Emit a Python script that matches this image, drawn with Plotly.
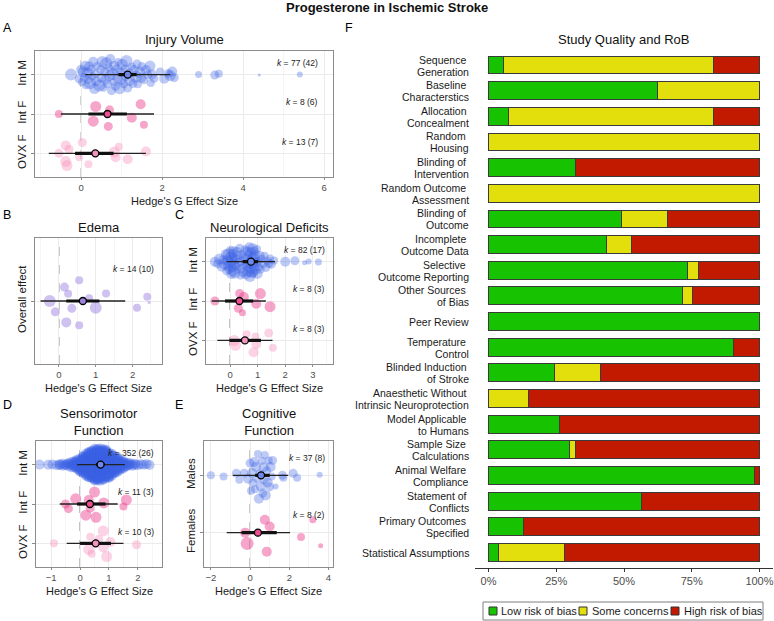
import numpy as np
import plotly.graph_objects as go

W, H = 774, 621
FONT = "Liberation Sans, Arial, sans-serif"

# ---------------- DATA ----------------
# Panel A: Injury Volume
iv_intm_x = [-0.25, -0.05, 0.0, 0.02, 0.05, 0.08, 0.1, 0.12, 0.15, 0.18, 0.2, 0.22, 0.25, 0.28, 0.3,
             0.33, 0.35, 0.38, 0.4, 0.45, 0.48, 0.5, 0.52, 0.55, 0.58, 0.6, 0.62, 0.65, 0.68, 0.7,
             0.72, 0.75, 0.78, 0.8, 0.82, 0.85, 0.88, 0.9, 0.92, 0.95, 0.98, 1.0, 1.02, 1.05, 1.08,
             1.1, 1.12, 1.15, 1.18, 1.2, 1.25, 1.28, 1.3, 1.35, 1.38, 1.4, 1.45, 1.48, 1.5, 1.55,
             1.6, 1.65, 1.7, 1.72, 1.75, 1.8, 1.95, 2.05, 2.15, 2.2, 2.25, 2.3, 2.9, 3.3, 3.4, 4.4, 5.4]
iv_intm_s = [12, 9, 10, 8, 11, 9, 10, 8, 11, 9, 10, 12, 9, 8, 10, 11, 9, 10, 8, 12, 9, 10, 11, 8, 9,
             10, 12, 9, 8, 11, 10, 9, 12, 8, 10, 9, 11, 10, 8, 12, 9, 10, 11, 9, 8, 10, 12, 9, 10, 11,
             8, 9, 10, 12, 9, 8, 11, 10, 9, 8, 10, 9, 11, 8, 10, 9, 8, 10, 9, 11, 10, 9, 7, 9, 8, 3, 6]
iv_intf_x = [-0.55, 0.36, 0.3, 0.7, 0.67, 1.25, 1.47, 1.55]
iv_intf_s = [8, 11, 11, 9, 9, 10, 10, 8]
iv_ovxf_x = [-0.55, -0.38, -0.38, -0.35, -0.3, -0.05, 0.03, 0.18, 0.82, 0.85, 0.93, 1.15, 1.6]
iv_ovxf_s = [9, 11, 10, 11, 9, 8, 9, 8, 11, 10, 8, 10, 10]
# (estimate, CI low, CI high, PI low, PI high)
iv_stats = {"Int M": (1.15, 0.92, 1.37, 0.1, 2.2),
            "Int F": (0.65, 0.18, 1.13, -0.5, 1.8),
            "OVX F": (0.35, -0.15, 0.8, -0.8, 1.6)}
iv_k = {"Int M": "77 (42)", "Int F": "8 (6)", "OVX F": "13 (7)"}

# Panel B: Edema
ed_x = [-0.25, -0.1, 0.15, 0.2, 0.25, 0.35, 0.55, 0.55, 0.82, 1.0, 1.28, 2.12, 2.4, 2.45]
ed_s = [12, 9, 9, 10, 8, 9, 8, 8, 8, 12, 8, 8, 8, 3]
ed_stats = (0.65, 0.2, 1.1, -0.5, 1.8)
ed_k = "14 (10)"

# Panel C: Neurological Deficits
nd_intm_x = [-0.55, -0.45, -0.38, -0.3, -0.25, -0.2, -0.15, -0.12, -0.1, -0.08, -0.05, -0.03, 0.0, 0.0,
             0.02, 0.05, 0.05, 0.08, 0.1, 0.1, 0.12, 0.15, 0.15, 0.18, 0.2, 0.22, 0.25, 0.28, 0.3, 0.32,
             0.35, 0.38, 0.4, 0.42, 0.45, 0.48, 0.5, 0.52, 0.55, 0.58, 0.6, 0.62, 0.64, 0.66, 0.68,
             0.7, 0.7, 0.72, 0.74, 0.75, 0.76, 0.78, 0.8, 0.8, 0.82, 0.84, 0.85, 0.86, 0.88, 0.9,
             0.92, 0.95, 0.98, 1.0, 1.02, 1.05, 1.08, 1.1, 1.15, 1.2, 1.25, 1.3, 1.35, 1.4, 1.45,
             1.5, 1.6, 2.0, 2.35, 2.7, 2.85, 3.2]
nd_intm_s = [10, 9, 11, 10, 9, 12, 10, 9, 11, 10, 12, 9, 10, 11, 9, 10, 12, 9, 10, 11, 9, 10, 8, 11,
             10, 9, 10, 8, 9, 10, 9, 8, 10, 9, 8, 10, 9, 8, 9, 10, 11, 9, 10, 12, 9, 11, 10, 12, 9,
             11, 10, 12, 9, 10, 11, 9, 12, 10, 9, 11, 10, 9, 8, 10, 9, 8, 10, 9, 8, 9, 8, 9, 8, 9,
             8, 9, 8, 10, 9, 5, 6, 7]
nd_intf_x = [-0.55, 0.3, 0.35, 0.45, 0.5, 0.95, 1.1, 1.45]
nd_intf_s = [9, 9, 9, 7, 10, 10, 11, 11]
nd_ovxf_x = [0.15, 0.2, 0.6, 0.85, 0.92, 0.95, 1.4, 1.55]
nd_ovxf_s = [11, 11, 8, 10, 8, 10, 9, 8]
nd_stats = {"Int M": (0.76, 0.46, 1.02, -0.12, 1.63),
            "Int F": (0.34, -0.18, 0.84, -0.66, 1.3),
            "OVX F": (0.54, -0.02, 1.12, -0.46, 1.54)}
nd_k = {"Int M": "82 (17)", "Int F": "8 (3)", "OVX F": "8 (3)"}

# Panel D: Sensorimotor Function (Int M given as value bins with counts, k = 352)
sm_intm_bins = [-1.4, -1.1, -0.95, -0.8, -0.7, -0.6, -0.5, -0.4, -0.3, -0.2, -0.1, 0.0, 0.1, 0.2,
                0.3, 0.4, 0.5, 0.6, 0.7, 0.8, 0.9, 1.0, 1.1, 1.2, 1.3, 1.4, 1.5, 1.6, 1.7, 1.8,
                1.9, 2.0, 2.1, 2.2, 2.3, 2.4]
sm_intm_counts = [1, 1, 1, 1, 2, 2, 2, 3, 4, 6, 8, 11, 15, 18, 22, 25, 27, 27, 27, 27, 25, 22,
                  18, 15, 12, 8, 6, 4, 3, 2, 2, 1, 1, 1, 1, 1]
sm_intm_size = 10
sm_intf_x = [-0.5, -0.4, -0.15, 0.2, 0.3, 0.35, 0.5, 0.55, 0.82, 1.5, 1.6]
sm_intf_s = [9, 9, 11, 11, 10, 9, 11, 11, 11, 8, 11]
sm_ovxf_x = [-0.9, 0.3, 0.35, 0.4, 0.65, 0.8, 0.8, 0.92, 1.05, 1.95]
sm_ovxf_s = [8, 11, 8, 8, 9, 10, 11, 11, 10, 9]
sm_stats = {"Int M": (0.71, 0.55, 0.85, -0.1, 1.55),
            "Int F": (0.34, -0.1, 0.88, -0.7, 1.3),
            "OVX F": (0.54, 0.0, 1.07, -0.46, 1.5)}
sm_k = {"Int M": "352 (26)", "Int F": "11 (3)", "OVX F": "10 (3)"}

# Panel E: Cognitive Function
cf_m_x = [-2.0, -1.35, -0.7, -0.55, -0.3, -0.1, 0.0, 0.05, 0.1, 0.15, 0.2, 0.25, 0.3, 0.35, 0.4,
          0.45, 0.5, 0.55, 0.6, 0.65, 0.7, 0.72, 0.75, 0.8, 0.85, 0.9, 0.95, 1.0, 1.05, 1.1, 1.15,
          1.3, 1.65, 1.7, 2.2, 2.4, 3.55]
cf_m_s = [8, 8, 9, 8, 9, 10, 9, 8, 10, 9, 10, 8, 10, 9, 8, 10, 9, 10, 8, 9, 10, 9, 8, 10, 9, 10,
          8, 9, 10, 8, 9, 6, 9, 8, 9, 8, 6]
cf_f_x = [-0.25, -0.15, 0.75, 0.85, 1.0, 2.6, 3.2, 3.6]
cf_f_s = [10, 13, 10, 10, 10, 8, 7, 5]
cf_stats = {"Males": (0.56, 0.26, 1.0, -0.88, 1.95),
            "Females": (0.4, -0.43, 1.36, -1.19, 2.04)}
cf_k = {"Males": "37 (8)", "Females": "8 (2)"}

# Panel F: Study quality / risk of bias (%)
rob_labels = ["Sequence\u00a0<br>Generation", "Baseline\u00a0<br>Characterstics",
              "Allocation\u00a0<br>Concealment", "Random\u00a0<br>Housing",
              "Blinding of\u00a0<br>Intervention", "Random Outcome\u00a0<br>Assessment",
              "Blinding of\u00a0<br>Outcome", "Incomplete\u00a0<br>Outcome Data",
              "Selective\u00a0<br>Outcome Reporting", "Other Sources\u00a0<br>of Bias",
              "Peer Review", "Temperature\u00a0<br>Control", "Blinded Induction\u00a0<br>of Stroke",
              "Anaesthetic Without\u00a0<br>Intrinsic Neuroprotection",
              "Model Applicable\u00a0<br>to Humans", "Sample Size\u00a0<br>Calculations",
              "Animal Welfare\u00a0<br>Compliance", "Statement of\u00a0<br>Conflicts",
              "Primary Outcomes\u00a0<br>Specified", "Statistical Assumptions"]
rob_low = [5.5, 62.2, 7.5, 0, 32, 0, 49, 43.4, 73.6, 71.7, 100, 90.6, 24.5, 0, 26.3, 30, 98.2, 56.6, 13, 3.8]
rob_some = [77.5, 37.8, 75.5, 100, 0, 100, 17, 9.5, 3.8, 3.7, 0, 0, 17, 14.9, 0, 2, 0, 0, 0, 24.4]
rob_high = [17, 0, 17, 0, 68, 0, 34, 47.1, 22.6, 24.6, 0, 9.4, 58.5, 85.1, 73.7, 68, 1.8, 43.4, 87, 71.8]
rob_cats = ["Low risk of bias", "Some concerns", "High risk of bias"]

# ---------------- STYLE ----------------
C_M = "rgba(60,98,228,0.48)"
C_F = "rgba(236,60,138,0.65)"
C_O = "rgba(246,140,186,0.55)"
C_E = "rgba(140,108,220,0.6)"
MEAN_FILL = {"M": "#6E88E8", "F": "#EC4E92", "O": "#F392BD", "E": "#9C84DE"}
ROB_COL = ["#17C200", "#E2DF0C", "#C21A00"]


def px(x):
    return x / W


def py(y):
    return 1 - y / H


def vdc_seq(n):
    out = []
    for i in range(1, n + 1):
        v, denom, k = 0.0, 1.0, i
        while k:
            denom *= 2
            k, r = divmod(k, 2)
            v += r / denom
        out.append(v)
    return np.array(out)


def quasi_offsets(x, width):
    x = np.asarray(x, float)
    n = len(x)
    if n < 2:
        return np.zeros(n)
    sd = x.std(ddof=1)
    q75, q25 = np.percentile(x, [75, 25])
    iqr = q75 - q25
    s = min(sd, iqr / 1.34) if iqr > 0 else sd
    bw = 0.9 * s * n ** -0.2
    d = np.exp(-0.5 * ((x[:, None] - x[None, :]) / bw) ** 2).sum(1)
    d = d / d.max()
    ranks = np.empty(n, int)
    ranks[np.argsort(x, kind="stable")] = np.arange(n)
    v = vdc_seq(n)[ranks]
    return (v - 0.5) * 2 * width * d


fig = go.Figure()
annotations = []
shapes = []

panels = [
    dict(ax="", xd=(35, 333), yd=(51, 177), xr=[-1.14, 6.22], dt=2, yr=[0.4, 3.6],
         rows={3: "Int M", 2: "Int F", 1: "OVX F"}, width=0.42,
         groups=[(3, iv_intm_x, iv_intm_s, C_M, "M", iv_stats["Int M"], iv_k["Int M"]),
                 (2, iv_intf_x, iv_intf_s, C_F, "F", iv_stats["Int F"], iv_k["Int F"]),
                 (1, iv_ovxf_x, iv_ovxf_s, C_O, "O", iv_stats["OVX F"], iv_k["OVX F"])]),
    dict(ax="2", xd=(35, 162), yd=(238, 364), xr=[-0.65, 2.8], dt=1, yr=[0.4, 1.6],
         rows={1: "Overall effect"}, width=0.28,
         groups=[(1, ed_x, ed_s, C_E, "E", ed_stats, ed_k)]),
    dict(ax="3", xd=(206, 333), yd=(238, 364), xr=[-0.87, 3.73], dt=1, yr=[0.4, 3.6],
         rows={3: "Int M", 2: "Int F", 1: "OVX F"}, width=0.4,
         groups=[(3, nd_intm_x, nd_intm_s, C_M, "M", nd_stats["Int M"], nd_k["Int M"]),
                 (2, nd_intf_x, nd_intf_s, C_F, "F", nd_stats["Int F"], nd_k["Int F"]),
                 (1, nd_ovxf_x, nd_ovxf_s, C_O, "O", nd_stats["OVX F"], nd_k["OVX F"])]),
    dict(ax="4", xd=(36, 162), yd=(441, 567), xr=[-1.52, 2.83], dt=1, yr=[0.4, 3.6],
         rows={3: "Int M", 2: "Int F", 1: "OVX F"}, width=0.42,
         groups=[(3, list(np.repeat(sm_intm_bins, sm_intm_counts)),
                  [sm_intm_size] * int(np.sum(sm_intm_counts)), C_M, "M", sm_stats["Int M"], sm_k["Int M"]),
                 (2, sm_intf_x, sm_intf_s, C_F, "F", sm_stats["Int F"], sm_k["Int F"]),
                 (1, sm_ovxf_x, sm_ovxf_s, C_O, "O", sm_stats["OVX F"], sm_k["OVX F"])]),
    dict(ax="5", xd=(204, 333), yd=(441, 567), xr=[-2.35, 4.23], dt=2, yr=[0.4, 2.6],
         rows={2: "Males", 1: "Females"}, width=0.45,
         groups=[(2, cf_m_x, cf_m_s, C_M, "M", cf_stats["Males"], cf_k["Males"]),
                 (1, cf_f_x, cf_f_s, C_F, "F", cf_stats["Females"], cf_k["Females"])]),
]

layout_axes = {}
for p in panels:
    xa, ya = "x" + p["ax"], "y" + p["ax"]
    for row, xv, sz, col, mk, st, ktxt in p["groups"]:
        xv = np.asarray(xv, float)
        off = quasi_offsets(xv, p["width"])
        fig.add_trace(go.Scatter(x=xv, y=row + off, mode="markers", xaxis=xa, yaxis=ya,
                                 marker=dict(size=sz, color=col, line=dict(width=0)),
                                 showlegend=False, hoverinfo="skip"))
        est, clo, chi, plo, phi = st
        fig.add_trace(go.Scatter(x=[plo, phi], y=[row, row], mode="lines", xaxis=xa, yaxis=ya,
                                 line=dict(color="#222222", width=1.3), showlegend=False, hoverinfo="skip"))
        fig.add_trace(go.Scatter(x=[clo, chi], y=[row, row], mode="lines", xaxis=xa, yaxis=ya,
                                 line=dict(color="#111111", width=3.2), showlegend=False, hoverinfo="skip"))
        fig.add_trace(go.Scatter(x=[est], y=[row], mode="markers", xaxis=xa, yaxis=ya,
                                 marker=dict(size=7, color=MEAN_FILL[mk], line=dict(color="black", width=1.3)),
                                 showlegend=False, hoverinfo="skip"))
        annotations.append(dict(x=0.955, xref=xa + " domain", y=row + 0.3, yref=ya,
                                text="<i>k</i> = " + ktxt, showarrow=False, xanchor="right",
                                yanchor="middle", font=dict(size=8.5, color="#222222")))
    shapes.append(dict(type="line", xref=xa, yref=ya + " domain", x0=0, x1=0, y0=0, y1=1,
                       line=dict(color="#808080", width=1, dash="dash"), layer="below"))
    layout_axes["xaxis" + p["ax"]] = dict(
        domain=[px(p["xd"][0]), px(p["xd"][1])], anchor=ya, range=p["xr"],
        tickmode="linear", tick0=0, dtick=p["dt"], showgrid=True,
        gridcolor="#EBEBEB", gridwidth=1, zeroline=False,
        minor=dict(dtick=p["dt"] / 2, tick0=0, showgrid=True, gridcolor="#F5F5F5", gridwidth=0.6),
        showline=True, mirror=True, linecolor="#8C8C8C", linewidth=1,
        ticks="outside", ticklen=2, tickcolor="#8C8C8C",
        tickfont=dict(size=9.5, color="#4D4D4D"))
    # x-axis title placed as a text annotation just below the tick labels
    annotations.append(dict(x=0.5, xref=xa + " domain", y=py(p["yd"][1] + 24), yref="paper",
                            text="Hedge's G Effect Size", showarrow=False, xanchor="center",
                            yanchor="middle", font=dict(size=11, color="#1A1A1A")))
    layout_axes["yaxis" + p["ax"]] = dict(
        domain=[py(p["yd"][1]), py(p["yd"][0])], anchor=xa, range=p["yr"],
        tickmode="array", tickvals=list(p["rows"].keys()),
        ticktext=list(p["rows"].values()), tickangle=-90,
        showgrid=True, gridcolor="#EBEBEB", zeroline=False,
        showline=True, mirror=True, linecolor="#8C8C8C", linewidth=1,
        ticks="outside", ticklen=3, tickcolor="#8C8C8C",
        tickfont=dict(size=11.5, color="#1A1A1A"))

# Panel F: stacked bars
for vals, name, col in zip([rob_low, rob_some, rob_high], rob_cats, ROB_COL):
    fig.add_trace(go.Bar(x=vals, y=rob_labels, orientation="h", name=name, xaxis="x6", yaxis="y6",
                         marker=dict(color=col, line=dict(color="#3A3A3A", width=1)),
                         showlegend=False, hoverinfo="skip"))

layout_axes["xaxis6"] = dict(domain=[px(475), px(773)], anchor="y6", range=[-5, 105],
                             tickvals=[0, 25, 50, 75, 100], ticktext=["0%", "25%", "50%", "75%", "100%"],
                             showgrid=False, zeroline=False, showline=True, linecolor="#333333",
                             linewidth=1, ticks="outside", ticklen=3, tickcolor="#333333",
                             tickfont=dict(size=11, color="#4D4D4D"))
layout_axes["yaxis6"] = dict(domain=[py(568), py(49.6)], anchor="x6", type="category",
                             categoryorder="array", categoryarray=rob_labels, range=[19.6, -0.6],
                             showgrid=False, zeroline=False, showline=False, ticks="",
                             showticklabels=False)

# Category labels of panel F, right-aligned, one annotation per text line
for i, lab in enumerate(rob_labels):
    lines = lab.split("<br>")
    shifts = [0] if len(lines) == 1 else [6, -6]
    for line, sh in zip(lines, shifts):
        annotations.append(dict(x=px(471), xref="paper", y=i, yref="y6", yshift=sh - 0.5, text=line,
                                showarrow=False, xanchor="right", yanchor="middle",
                                font=dict(size=10.5, color="#1A1A1A")))


def txt(x, y, s, size, xanchor="center", color="#111111"):
    annotations.append(dict(x=px(x), y=py(y), xref="paper", yref="paper", text=s, showarrow=False,
                            xanchor=xanchor, yanchor="middle", font=dict(size=size, color=color)))


txt(387, 8, "<b>Progesterone in Ischemic Stroke</b>", 13)
txt(184, 39, "Injury Volume", 13)
txt(98.5, 227, "Edema", 13)
txt(269.5, 227, "Neurological Deficits", 13)
txt(99, 422, "Sensorimotor<br>Function", 13)
txt(268.5, 422, "Cognitive<br>Function", 13)
txt(624, 39, "Study Quality and RoB", 13)
for lt, lx, ly in [("A", 1, 28), ("B", 1, 215), ("C", 173, 215), ("D", 1, 405), ("E", 173, 405), ("F", 343, 28)]:
    txt(lx, ly, lt, 12.5, xanchor="left", color="#000000")

# Manual legend for panel F
shapes.append(dict(type="rect", xref="paper", yref="paper", x0=px(483), x1=px(763), y0=py(620), y1=py(602),
                   line=dict(color="#7F7F7F", width=1), fillcolor="white"))
for (sx, tx), name, col in zip([(489, 499), (579, 590), (671, 682)], rob_cats, ROB_COL):
    shapes.append(dict(type="rect", xref="paper", yref="paper", x0=px(sx), x1=px(sx + 8),
                       y0=py(615), y1=py(607), line=dict(color="#333333", width=1), fillcolor=col))
    txt(tx, 611, name, 11, xanchor="left", color="#1A1A1A")

fig.update_layout(width=W, height=H, margin=dict(l=0, r=0, t=0, b=0),
                  paper_bgcolor="white", plot_bgcolor="white", barmode="stack", bargap=0.3,
                  font=dict(family=FONT, color="#1A1A1A"),
                  annotations=annotations, shapes=shapes, showlegend=False, **layout_axes)

fig.write_html("out.html")
